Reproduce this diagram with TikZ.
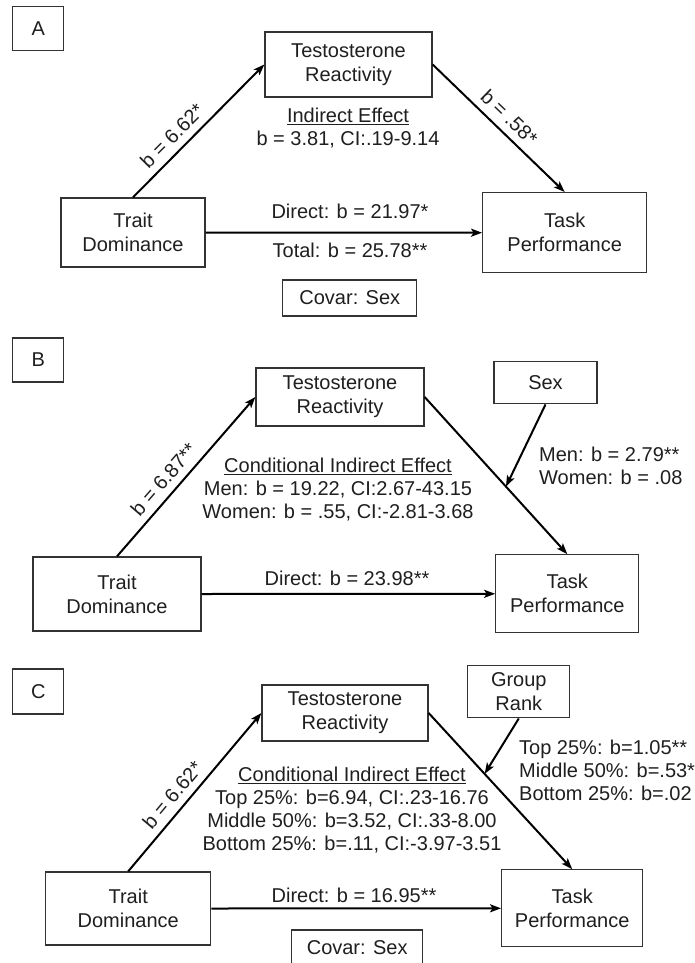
\documentclass[tikz,border=0pt]{standalone}
\usepackage{fontspec}
\setmainfont{Liberation Sans}
\usetikzlibrary{arrows.meta}
\begin{document}
\begin{tikzpicture}[x=1pt,y=-1pt,
  every node/.style={font=\fontsize{20}{24}\selectfont, text=black!88},
  box/.style={draw=black!80, line width=1.3pt, align=center, inner sep=0pt},
  arr/.style={draw=black, line width=2pt, -{Stealth[length=11pt,width=8pt,inset=2.5pt]}},
  lbl/.style={sloped, above=5pt, inner sep=2pt},
  txt/.style={align=center, inner sep=0pt},
  multi/.style={align=center, inner sep=0pt, font=\fontsize{20}{23}\selectfont}
]
\path[use as bounding box, fill=white] (0,0) rectangle (695,963);
\clip (0,0) rectangle (695,963);

% ---------------- Panel A ----------------
\node[box, minimum width=51pt, minimum height=44pt] (labA) at (38.3,28.7) {A};
\node[box, minimum width=167pt, minimum height=65pt] (testoA) at (348.5,64.5) {Testosterone\\Reactivity};
\node[box, minimum width=144pt, minimum height=69pt] (traitA) at (133,232.5) {Trait\\Dominance};
\node[box, minimum width=164pt, minimum height=80pt] (taskA) at (564.7,232.7) {Task\\Performance};
\node[box, minimum width=134pt, minimum height=36pt] (covA) at (349.8,298) {Covar: Sex};

\draw[arr] (traitA.north) -- node[lbl, pos=0.38] {b = 6.62*} (testoA.west);
\draw[arr] (testoA.east) -- node[lbl, pos=0.5] {b = .58*} (taskA.north);
\draw[arr] (traitA.east) -- (taskA.west);

\node[multi] (indA) at (348,128.5) {\underline{Indirect Effect}\\b = 3.81, CI:.19-9.14};
\node[txt] (dirA) at (350,211) {Direct: b = 21.97*};
\node[txt] (totA) at (350,250) {Total: b = 25.78**};

% ---------------- Panel B ----------------
\node[box, minimum width=51pt, minimum height=44pt] (labB) at (38.3,360) {B};
\node[box, minimum width=168pt, minimum height=58pt] (testoB) at (340,397) {Testosterone\\Reactivity};
\node[box, minimum width=168pt, minimum height=74pt] (traitB) at (117,594) {Trait\\Dominance};
\node[box, minimum width=143pt, minimum height=78pt] (taskB) at (567.3,593.8) {Task\\Performance};
\node[box, minimum width=103pt, minimum height=42pt] (sexB) at (545.5,382.8) {Sex};

\draw[arr] (traitB.north) -- node[lbl, pos=0.42] {b = 6.87**} (testoB.west);
\draw[arr] (testoB.east) -- coordinate[pos=0.57] (modB) (taskB.north);
\draw[arr] (sexB.south) -- (modB);
\draw[arr] (traitB.east) -- (taskB.west);

\node[multi] (cieB) at (338,490) {\underline{Conditional Indirect Effect}\\Men: b = 19.22, CI:2.67-43.15\\Women: b = .55, CI:-2.81-3.68};
\node[multi, align=left, anchor=west] (modlabB) at (539,466) {Men: b = 2.79**\\Women: b = .08};
\node[txt] (dirB) at (347,578) {Direct: b = 23.98**};

% ---------------- Panel C ----------------
\node[box, minimum width=51pt, minimum height=45pt] (labC) at (38.3,691.5) {C};
\node[box, minimum width=166pt, minimum height=56pt] (testoC) at (345,713) {Testosterone\\Reactivity};
\node[box, minimum width=165pt, minimum height=73pt] (traitC) at (128.2,908.5) {Trait\\Dominance};
\node[box, minimum width=141pt, minimum height=77pt] (taskC) at (572.2,908.3) {Task\\Performance};
\node[box, minimum width=102pt, minimum height=52pt] (groupC) at (518.8,691.8) {Group\\Rank};
\node[box, minimum width=131pt, minimum height=36pt] (covC) at (357.2,948) {Covar: Sex};

\draw[arr] (traitC.north) -- node[lbl, pos=0.42] {b = 6.62*} (testoC.west);
\draw[arr] (testoC.east) -- coordinate[pos=0.39] (modC) (taskC.north);
\draw[arr] (groupC.south) -- (modC);
\draw[arr] (traitC.east) -- (taskC.west);

\node[multi] (cieC) at (352,810) {\underline{Conditional Indirect Effect}\\Top 25\%: b=6.94, CI:.23-16.76\\Middle 50\%: b=3.52, CI:.33-8.00\\Bottom 25\%: b=.11, CI:-3.97-3.51};
\node[multi, align=left, anchor=west] (modlabC) at (519,770) {Top 25\%: b=1.05**\\Middle 50\%: b=.53**\\Bottom 25\%: b=.02};
\node[txt] (dirC) at (354,895) {Direct: b = 16.95**};
\end{tikzpicture}
\end{document}
